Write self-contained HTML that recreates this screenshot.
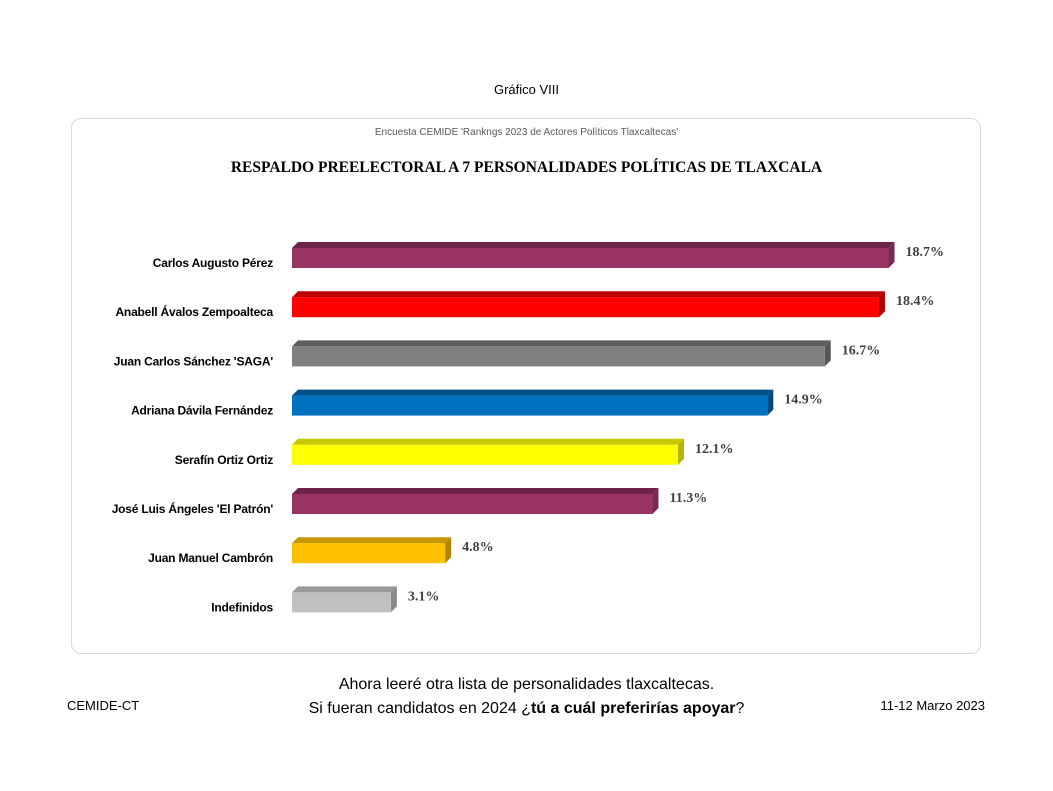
<!DOCTYPE html>
<html><head><meta charset="utf-8"><style>
body{margin:0;width:1053px;height:791px;background:#fff;font-family:"Liberation Sans",sans-serif;position:relative;overflow:hidden}
.t{position:absolute;white-space:nowrap}
</style></head><body>
<div class="t" style="left:0;width:1053px;text-align:center;top:82px;font-size:13px;color:#000">Gráfico VIII</div>
<div style="position:absolute;left:71px;top:118px;width:908px;height:534px;border:1px solid #d9d9d9;border-radius:10px"></div>
<div class="t" style="left:0;width:1053px;text-align:center;top:127px;font-size:10px;color:#595959">Encuesta CEMIDE 'Rankngs 2023 de Actores Políticos Tlaxcaltecas'</div>
<div class="t" style="left:0;width:1053px;text-align:center;top:159px;font-size:15.5px;font-weight:bold;font-family:'Liberation Serif',serif;color:#000">RESPALDO PREELECTORAL A 7 PERSONALIDADES POLÍTICAS DE TLAXCALA</div>
<svg width="1053" height="791" style="position:absolute;left:0;top:0" font-family="Liberation Sans, sans-serif">
<g id="bars"></g>
</svg>
<script>
var d=[["Carlos Augusto Pérez",18.7,"#993366","#6e2449","#7a2952"],
["Anabell Ávalos Zempoalteca",18.4,"#ff0000","#c00000","#b00000"],
["Juan Carlos Sánchez 'SAGA'",16.7,"#808080","#5c5c5c","#555"],
["Adriana Dávila Fernández",14.9,"#0070c0","#00508a","#004a80"],
["Serafín Ortiz Ortiz",12.1,"#ffff00","#c8c800","#b5b500"],
["José Luis Ángeles 'El Patrón'",11.3,"#993366","#6e2449","#7a2952"],
["Juan Manuel Cambrón",4.8,"#ffc000","#c89600","#b08400"],
["Indefinidos",3.1,"#c0c0c0","#999","#8a8a8a"]];
var s="";
d.forEach(function(r,i){var y=248+i*49.2,x0=292,x1=292+r[1]*31.9,k=6;
s+='<polygon points="'+x0+','+y+' '+(x0+k)+','+(y-k)+' '+(x1+k)+','+(y-k)+' '+x1+','+y+'" fill="'+r[3]+'"/>';
s+='<polygon points="'+x1+','+y+' '+(x1+k)+','+(y-k)+' '+(x1+k)+','+(y+20-k)+' '+x1+','+(y+20)+'" fill="'+r[4]+'"/>';
s+='<rect x="'+x0+'" y="'+y+'" width="'+(x1-x0)+'" height="20" fill="'+r[2]+'"/>';
s+='<text x="273" y="'+(y+19)+'" text-anchor="end" font-size="12" font-weight="bold" letter-spacing="-0.2">'+r[0]+'</text>';
s+='<text x="'+(x1+17)+'" y="'+(y+8)+'" font-size="14" font-weight="bold" font-family="Liberation Serif, serif" fill="#404040">'+r[1].toFixed(1)+'%</text>';});
document.getElementById("bars").innerHTML=s;
</script>
<div class="t" style="left:0;width:1053px;text-align:center;top:673px;font-size:16px;color:#000;line-height:24px">Ahora leeré otra lista de personalidades tlaxcaltecas.<br>Si fueran candidatos en 2024 ¿<b>tú a cuál preferirías apoyar</b>?</div>
<div class="t" style="left:67px;top:698px;font-size:13px">CEMIDE-CT</div>
<div class="t" style="right:68px;top:698px;font-size:13px">11-12 Marzo 2023</div>
</body></html>
